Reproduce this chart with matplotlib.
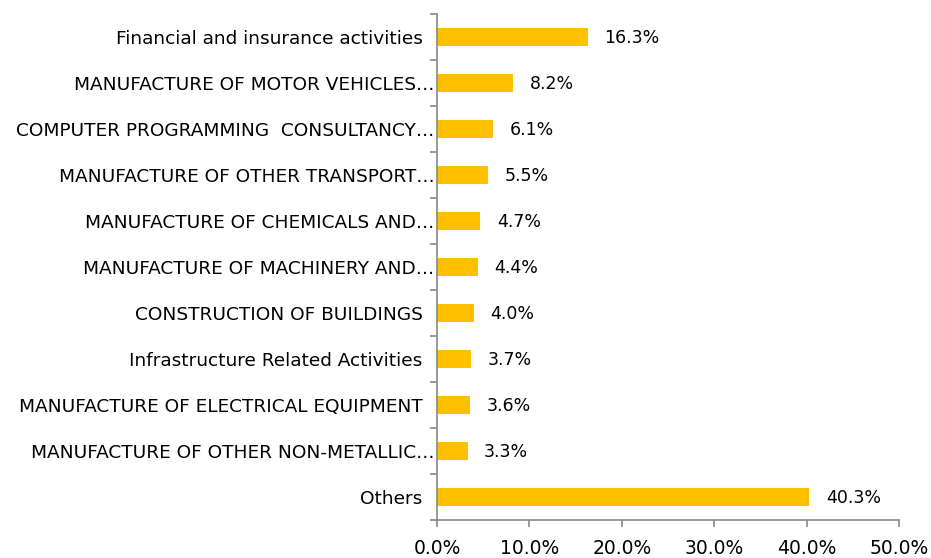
import numpy as np
import matplotlib.pyplot as plt

# categories from top to bottom
labels = ['Financial and insurance activities  ',
          'MANUFACTURE OF MOTOR VEHICLES\u2026',
          'COMPUTER PROGRAMMING  CONSULTANCY\u2026',
          'MANUFACTURE OF OTHER TRANSPORT\u2026',
          'MANUFACTURE OF CHEMICALS AND\u2026',
          'MANUFACTURE OF MACHINERY AND\u2026',
          'CONSTRUCTION OF BUILDINGS  ',
          'Infrastructure Related Activities  ',
          'MANUFACTURE OF ELECTRICAL EQUIPMENT  ',
          'MANUFACTURE OF OTHER NON-METALLIC\u2026',
          'Others  ']
values = [16.3, 8.2, 6.1, 5.5, 4.7, 4.4, 4.0, 3.7, 3.6, 3.3, 40.3]

plt.rcParams['font.family'] = ['DejaVu Sans']
fig = plt.figure(figsize=(9.31, 5.58), dpi=100)
ax = fig.add_axes([0.4694, 0.0681, 0.9656 - 0.4694, 0.9749 - 0.0681])

n = len(values)
y = np.arange(n)
ax.barh(y, values, height=0.4, color='#FFC000')
for yi, v in zip(y, values):
    ax.text(v + 1.8, yi + 0.03, f'{v:.1f}%', va='center', ha='left', fontsize=12.5)

ax.set_ylim(n - 0.5, -0.5)
ax.set_xlim(0, 50)
ax.set_yticks(y)
ax.set_yticklabels(labels, fontsize=13.3)
ax.tick_params(axis='y', which='major', length=0, pad=2)
ax.set_yticks(np.arange(n + 1) - 0.5, minor=True)
ax.tick_params(axis='y', which='minor', length=5, color='#888888', width=1.2)
ax.set_xticks(np.arange(0, 51, 10))
ax.set_xticklabels([f'{t:.1f}%' for t in np.arange(0, 51, 10)], fontsize=13.5)
ax.tick_params(axis='x', length=5, color='#888888', width=1.2, pad=9)

for s in ['top', 'right']:
    ax.spines[s].set_visible(False)
for s in ['left', 'bottom']:
    ax.spines[s].set_color('#888888')
    ax.spines[s].set_linewidth(1.2)

plt.savefig('out.png', dpi=100)
